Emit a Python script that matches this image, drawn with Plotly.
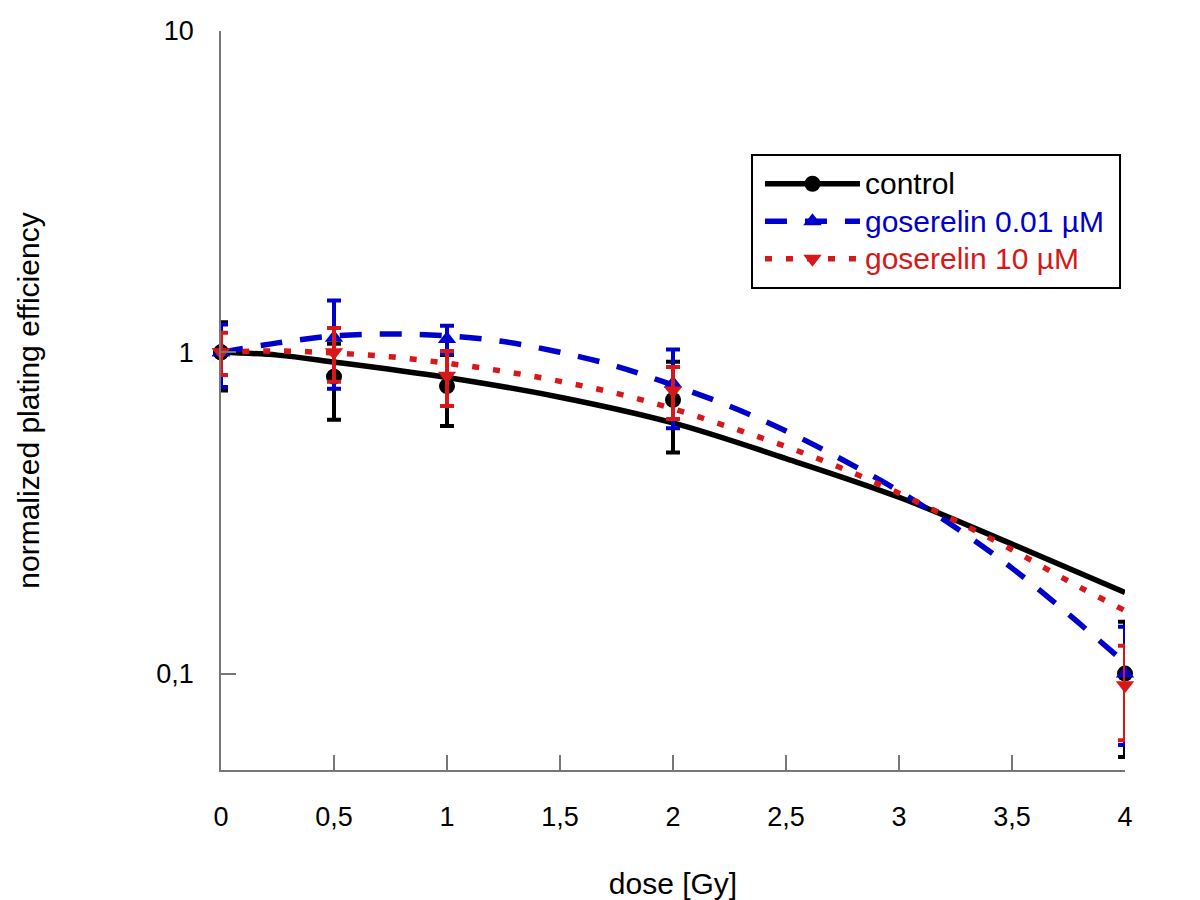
import plotly.graph_objects as go

# ---- measured data points (mean, symmetric error) ----
dose = [0, 0.5, 1, 2, 4]
ctrl_y = [1.0, 0.84, 0.785, 0.711, 0.1]
ctrl_err = [0.24, 0.223, 0.195, 0.223, 0.045]
g001_y = [1.0, 1.11, 1.10, 0.80, 0.1]
g001_err = [0.22, 0.34, 0.11, 0.22, 0.04]
g10_y = [1.0, 1.0, 0.845, 0.76, 0.092]
g10_err = [0.15, 0.19, 0.165, 0.14, 0.03]

# ---- fitted curves ----
ctrl_fit_x = [0, 0.25, 0.5, 1, 1.5, 2, 2.5, 3, 3.5, 4]
ctrl_fit_y = [1.0, 0.98, 0.933, 0.835, 0.725, 0.603, 0.467, 0.354, 0.253, 0.179]
g001_fit_x = [0, 0.25, 0.5, 0.75, 1, 1.25, 1.5, 1.75, 2, 2.25, 2.5, 2.75, 3, 3.25, 3.5, 3.75, 4]
g001_fit_y = [1.0, 1.07, 1.125, 1.14, 1.125, 1.08, 1.0, 0.905, 0.79, 0.68, 0.569, 0.463, 0.37, 0.285, 0.213, 0.153, 0.108]
g10_fit_x = [0, 0.25, 0.5, 0.75, 1, 1.25, 1.5, 1.75, 2, 2.25, 2.5, 2.75, 3, 3.25, 3.5, 3.75, 4]
g10_fit_y = [1.0, 1.01, 0.995, 0.968, 0.925, 0.873, 0.812, 0.745, 0.667, 0.585, 0.509, 0.435, 0.364, 0.299, 0.243, 0.194, 0.157]

x_ticks = [0, 0.5, 1, 1.5, 2, 2.5, 3, 3.5, 4]
x_ticktext = ["0", "0,5", "1", "1,5", "2", "2,5", "3", "3,5", "4"]
y_ticks = [0.1, 1, 10]
y_ticktext = ["0,1", "1", "10"]

BLACK = "#000000"
BLUE = "#0000CC"
RED = "#D81818"
FONT = "Liberation Sans, Arial, sans-serif"

series = [
    dict(name="control", color=BLACK, dash="solid", symbol="circle", msize=16,
         fx=ctrl_fit_x, fy=ctrl_fit_y, y=ctrl_y, e=ctrl_err),
    dict(name="goserelin 0.01 µM", color=BLUE, dash="22px,18px", symbol="triangle-up", msize=16,
         fx=g001_fit_x, fy=g001_fit_y, y=g001_y, e=g001_err),
    dict(name="goserelin 10 µM", color=RED, dash="7px,14px", symbol="triangle-down", msize=16,
         fx=g10_fit_x, fy=g10_fit_y, y=g10_y, e=g10_err),
]

fig = go.Figure()

# curves (legend entries)
for s in series:
    mcols = [s["color"]] + ["rgba(0,0,0,0)"] * (len(s["fx"]) - 1)
    fig.add_trace(go.Scatter(
        x=s["fx"], y=s["fy"], mode="lines+markers",
        name="<span style='color:%s;font-size:30px'>%s</span>" % (s["color"], s["name"]),
        line=dict(color=s["color"], width=5.5, dash=s["dash"], shape="spline", smoothing=1),
        marker=dict(symbol=s["symbol"], size=s["msize"], color=mcols, line=dict(width=0)),
        cliponaxis=False, hoverinfo="skip",
    ))

# measured points with error bars
for s in series:
    fig.add_trace(go.Scatter(
        x=dose, y=s["y"], mode="markers", showlegend=False,
        marker=dict(symbol=s["symbol"], size=s["msize"], color=s["color"], line=dict(width=0)),
        error_y=dict(type="data", array=s["e"], visible=True, color=s["color"],
                     thickness=4, width=7),
        cliponaxis=False,
    ))

fig.update_layout(
    width=1184, height=892,
    margin=dict(l=213, r=67, t=23, b=130),
    paper_bgcolor="white", plot_bgcolor="white",
    font=dict(family=FONT, size=27, color="black"),
    showlegend=True,
    legend=dict(
        x=0.5962, y=0.8254, xanchor="left", yanchor="top",
        borderwidth=0, bgcolor="rgba(0,0,0,0)",
        font=dict(family=FONT, size=26.5, color="black"),
        itemwidth=95, tracegroupgap=0,
    ),
    shapes=[dict(type="rect", xref="paper", yref="paper",
                 x0=0.5874, x1=0.9945, y0=0.6522, y1=0.8322,
                 line=dict(color="black", width=2), fillcolor="white", layer="above")],
)

fig.update_xaxes(
    automargin=False,
    range=[0, 4], tickvals=x_ticks, ticktext=x_ticktext,
    showgrid=False, zeroline=False,
    showline=True, linecolor="#777777", linewidth=1.5,
    ticks="inside", ticklen=15, tickcolor="#777777", tickwidth=1.5,
    tickfont=dict(family=FONT, size=27, color="black"),
    ticklabelstandoff=22,
    title=dict(text="dose [Gy]", font=dict(family=FONT, size=30, color="black"), standoff=54),
)
fig.update_yaxes(
    automargin=False,
    type="log", range=[-1.3, 1], tickvals=y_ticks, ticktext=y_ticktext,
    showgrid=False, zeroline=False,
    showline=True, linecolor="#777777", linewidth=1.5,
    ticks="inside", ticklen=15, tickcolor="#777777", tickwidth=1.5,
    tickfont=dict(family=FONT, size=27, color="black"),
    ticklabelstandoff=20,
    title=dict(text="normalized plating efficiency", font=dict(family=FONT, size=30, color="black"), standoff=108),
)

fig.write_html("out.html")
